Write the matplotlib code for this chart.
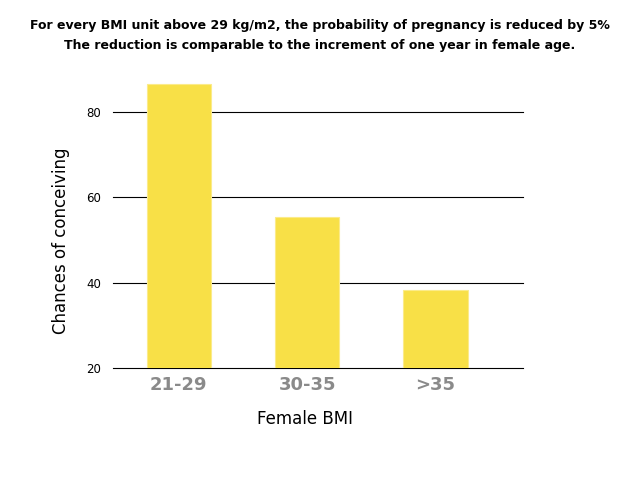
import numpy as np
import matplotlib
matplotlib.use('Agg')
import matplotlib.pyplot as plt

categories = ['21-29', '30-35', '>35']
chances = [86.6, 55.5, 38.4]
yticks = [20, 40, 60, 80]

fig = plt.figure(figsize=(6.4, 4.8), dpi=100)
ax = fig.add_axes([0.177, 0.233, 0.64, 0.60])

x = np.arange(len(categories))
ax.bar(x, chances, width=0.5, color='#F8E047', edgecolor='#FBEB8A', linewidth=0.8, zorder=3)

ax.set_xlim(-0.51, 2.68)
ax.set_ylim(20, 87.5)
ax.set_yticks(yticks)
ax.set_yticklabels([str(t) for t in yticks])
ax.set_xticks(x)
ax.set_xticklabels(categories)
ax.yaxis.grid(True, color='black', linewidth=0.8, zorder=1)
for gl in ax.get_ygridlines():
    gl.set_clip_on(False)
ax.set_axisbelow(True)
for s in ax.spines.values():
    s.set_visible(False)
ax.tick_params(axis='y', length=0, pad=9, labelsize=8.5, labelcolor='black')
ax.tick_params(axis='x', length=0, pad=6, labelsize=13)
for lab in ax.get_xticklabels():
    lab.set_color('#8a8a8a')
    lab.set_fontweight('bold')

ax.set_xlabel('Female BMI', fontsize=12)
ax.xaxis.set_label_coords(0.468, -0.145)
ax.set_ylabel('Chances of conceiving', fontsize=12)
ax.yaxis.set_label_coords(-0.106, 0.444)

fig.text(0.5, 0.947, 'For every BMI unit above 29 kg/m2, the probability of pregnancy is reduced by 5%',
         ha='center', va='center', fontsize=9, fontweight='bold')
fig.text(0.5, 0.905, 'The reduction is comparable to the increment of one year in female age.',
         ha='center', va='center', fontsize=9, fontweight='bold')

plt.savefig('out.png', dpi=100)
